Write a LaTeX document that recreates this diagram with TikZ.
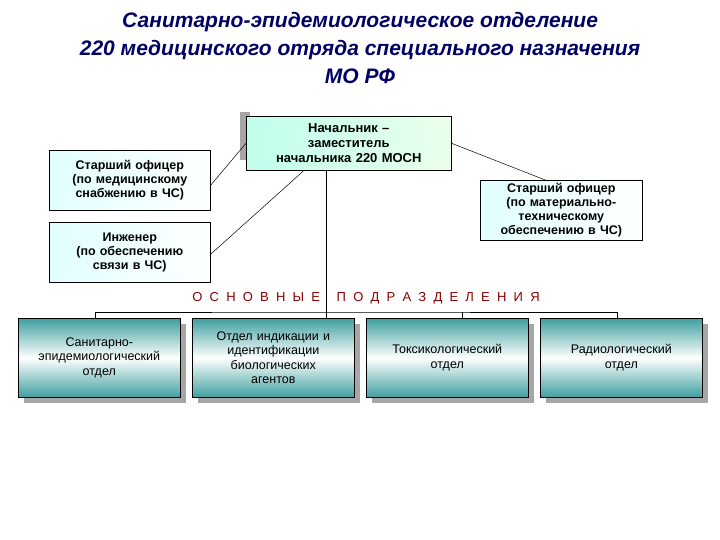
\documentclass[tikz,border=0pt]{standalone}
\usepackage{fontspec}
\setmainfont{Liberation Sans}
\begin{document}
\begin{tikzpicture}[x=1pt,y=-1pt,
 topbox/.style={draw=black,line width=0.6pt,align=center,font=\bfseries\fontsize{12.5}{14}\selectfont,
   inner sep=0pt,anchor=north west,left color=cyan!12,right color=white},
 headbox/.style={draw=black,line width=0.6pt,align=center,font=\bfseries\fontsize{13}{15}\selectfont,
   inner sep=0pt,anchor=north west,left color=green!30!cyan!25,right color=green!8},
 unitbox/.style={draw=black,line width=0.6pt,align=center,font=\fontsize{12.5}{14.5}\selectfont,
   inner sep=0pt,anchor=north west,top color=teal!75,bottom color=teal!75,middle color=white,
   minimum width=162pt,minimum height=79pt,text width=156pt},
 shadow/.style={fill=gray!70,draw=none},
 conn/.style={draw=black,line width=0.5pt}]
\useasboundingbox (0,0) rectangle (720,540);
\fill[white] (0,0) rectangle (720,540);
\node[font=\bfseries\itshape\fontsize{21}{28}\selectfont,text=blue!40!black,align=center] (title) at (360,48)
 {Санитарно-эпидемиологическое отделение\\220 медицинского отряда специального назначения\\МО РФ};
% head
\fill[shadow] (240,112) rectangle (250,160);
\node[headbox,minimum width=205pt,minimum height=54pt,text width=200pt] (head) at (246,116)
 {Начальник –\\заместитель\\начальника 220 МОСН};
\node[topbox,minimum width=161pt,minimum height=60pt,text width=158pt] (l1) at (49,150)
 {Старший офицер\\(по медицинскому\\снабжению в ЧС)};
\node[topbox,minimum width=161pt,minimum height=60pt,text width=158pt] (l2) at (49,222)
 {Инженер\\(по обеспечению\\связи в ЧС)};
\node[topbox,minimum width=162pt,minimum height=60pt,text width=158pt] (r1) at (480,180)
 {Старший офицер\\(по материально-\\техническому\\обеспечению в ЧС)};
% units
\foreach \x in {18,192,366,540} \fill[shadow] (\x+6,324) rectangle (\x+168,403);
\node[unitbox] (u1) at (18,318) {Санитарно-\\эпидемиологический\\отдел};
\node[unitbox] (u2) at (192,318) {Отдел индикации и\\идентификации\\биологических\\агентов};
\node[unitbox] (u3) at (366,318) {Токсикологический\\отдел};
\node[unitbox] (u4) at (540,318) {Радиологический\\отдел};
\node[text=red!55!black,font=\fontsize{13}{15}\selectfont] (lbl) at (366,298)
 {О\ \ С\ \ Н\ \ О\ \ В\ \ Н\ \ Ы\ \ Е\quad\ П\ \ О\ \ Д\ \ Р\ \ А\ \ З\ \ Д\ \ Е\ \ Л\ \ Е\ \ Н\ \ И\ \ Я};
% connectors
\coordinate (bus) at (326,312);
\draw[conn] (head.south -| bus) -- (bus);
\draw[conn] ([xshift=-4pt]u1.north) |- (bus) -| ([xshift=-4pt]u4.north);
\draw[conn] (u2.north -| bus) -- (bus);
\draw[conn] ([xshift=15pt]u3.north) -- ([xshift=15pt]u3.north |- bus);
\draw[conn] (head.west) -- ([yshift=-5pt]l1.east);
\draw[conn] ([xshift=-45pt]head.south) -- ([yshift=-2pt]l2.east);
\draw[conn] (head.east) -- ([xshift=-16pt]r1.north);
\end{tikzpicture}
\end{document}
